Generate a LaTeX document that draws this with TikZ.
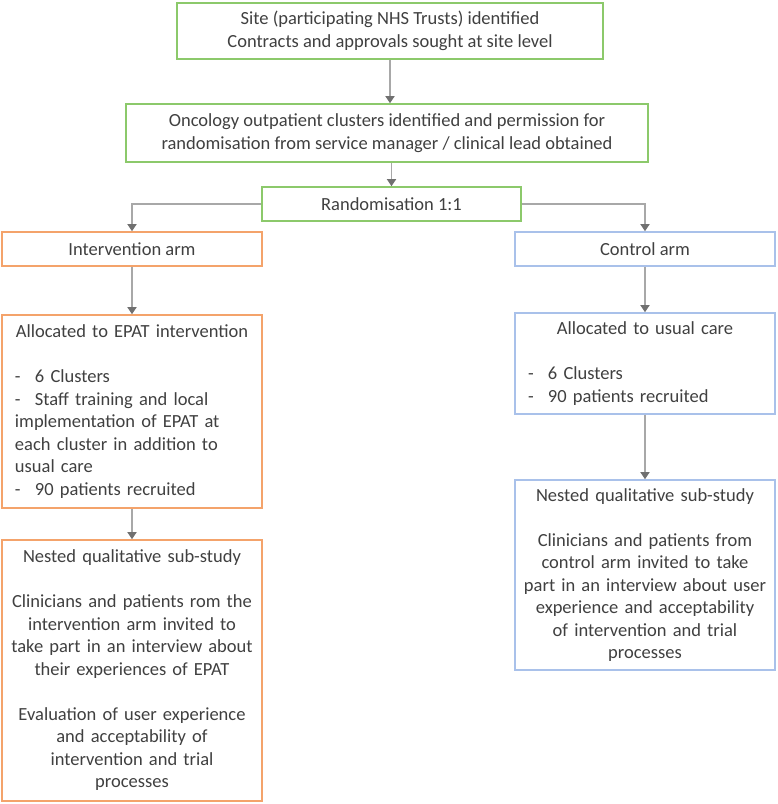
\documentclass[tikz,border=0pt]{standalone}
\usepackage{fontspec}
\setmainfont{Carlito}
\usetikzlibrary{arrows.meta}
\definecolor{grn}{HTML}{8CC96B}
\definecolor{org}{HTML}{F4A36B}
\definecolor{blu}{HTML}{A9C1EA}
\definecolor{txt}{HTML}{404040}
\definecolor{lin}{HTML}{A8A8A8}
\definecolor{tipc}{HTML}{707070}
\newcommand\litem[1]{\hangindent=20pt\hangafter=1\noindent\makebox[20pt][l]{-}#1\par}
\begin{document}
\begin{tikzpicture}[x=1pt,y=-1pt,
 box/.style={draw, line width=1.6pt, fill=white, text=txt, inner sep=0pt,
   font=\fontsize{18.5}{22.5}\selectfont, align=center},
 gbox/.style={box, draw=grn},
 obox/.style={box, draw=org},
 bbox/.style={box, draw=blu},
 conn/.style={draw=lin, line width=1.5pt, -{Triangle[width=9pt,length=7pt,color=tipc]}}]
\useasboundingbox (0,0) rectangle (778,804);

\node[gbox, minimum width=426pt, minimum height=56pt] (site) at (390,31)
  {Site (participating NHS Trusts) identified\\Contracts and approvals sought at site level};
\node[gbox, minimum width=522pt, minimum height=58pt] (clus) at (387,133)
  {Oncology outpatient clusters identified and permission for\\randomisation from service manager / clinical lead obtained};
\node[gbox, minimum width=259pt, minimum height=34pt] (rand) at (391.5,204)
  {Randomisation 1:1};

\node[obox, minimum width=260pt, minimum height=34pt] (int) at (132,249) {Intervention arm};
\node[bbox, minimum width=260pt, minimum height=34pt] (ctrl) at (645,249) {Control arm};

\node[obox, minimum width=260pt, minimum height=193pt, text width=234pt, align=left] (alloc) at (132,411.5)
  {\centering Allocated to EPAT intervention\par\mbox{}\par\raggedright
   \litem{6 Clusters}
   \litem{Staff training and local\\implementation of EPAT at\\each cluster in addition to\\usual care}
   \litem{90 patients recruited}};

\node[obox, minimum width=260pt, minimum height=261pt, text width=256pt, align=center] (nint) at (132,670.5)
  {\centering Nested qualitative sub-study\par\mbox{}\par
   Clinicians and patients rom the\\intervention arm invited to\\take part in an interview about\\their experiences of EPAT\par\mbox{}\par
   Evaluation of user experience\\and acceptability of\\intervention and trial\\processes};

\node[bbox, minimum width=260pt, minimum height=101pt, text width=234pt, align=left] (usual) at (645,363.5)
  {\centering Allocated to usual care\par\mbox{}\par\raggedright
   \litem{6 Clusters}
   \litem{90 patients recruited}};

\node[bbox, minimum width=260pt, minimum height=190pt, text width=256pt, align=center] (nctrl) at (645,575)
  {\centering Nested qualitative sub-study\par\mbox{}\par
   Clinicians and patients from\\control arm invited to take\\part in an interview about user\\experience and acceptability\\of intervention and trial\\processes};

\draw[conn] (site.south) -- (site.south |- clus.north);
\draw[conn] (rand.north |- clus.south) -- (rand.north);
\draw[conn] (rand.west) -| (int.north);
\draw[conn] (rand.east) -| (ctrl.north);
\draw[conn] (int.south) -- (alloc.north);
\draw[conn] (alloc.south) -- (nint.north);
\draw[conn] (ctrl.south) -- (usual.north);
\draw[conn] (usual.south) -- (nctrl.north);
\end{tikzpicture}
\end{document}
